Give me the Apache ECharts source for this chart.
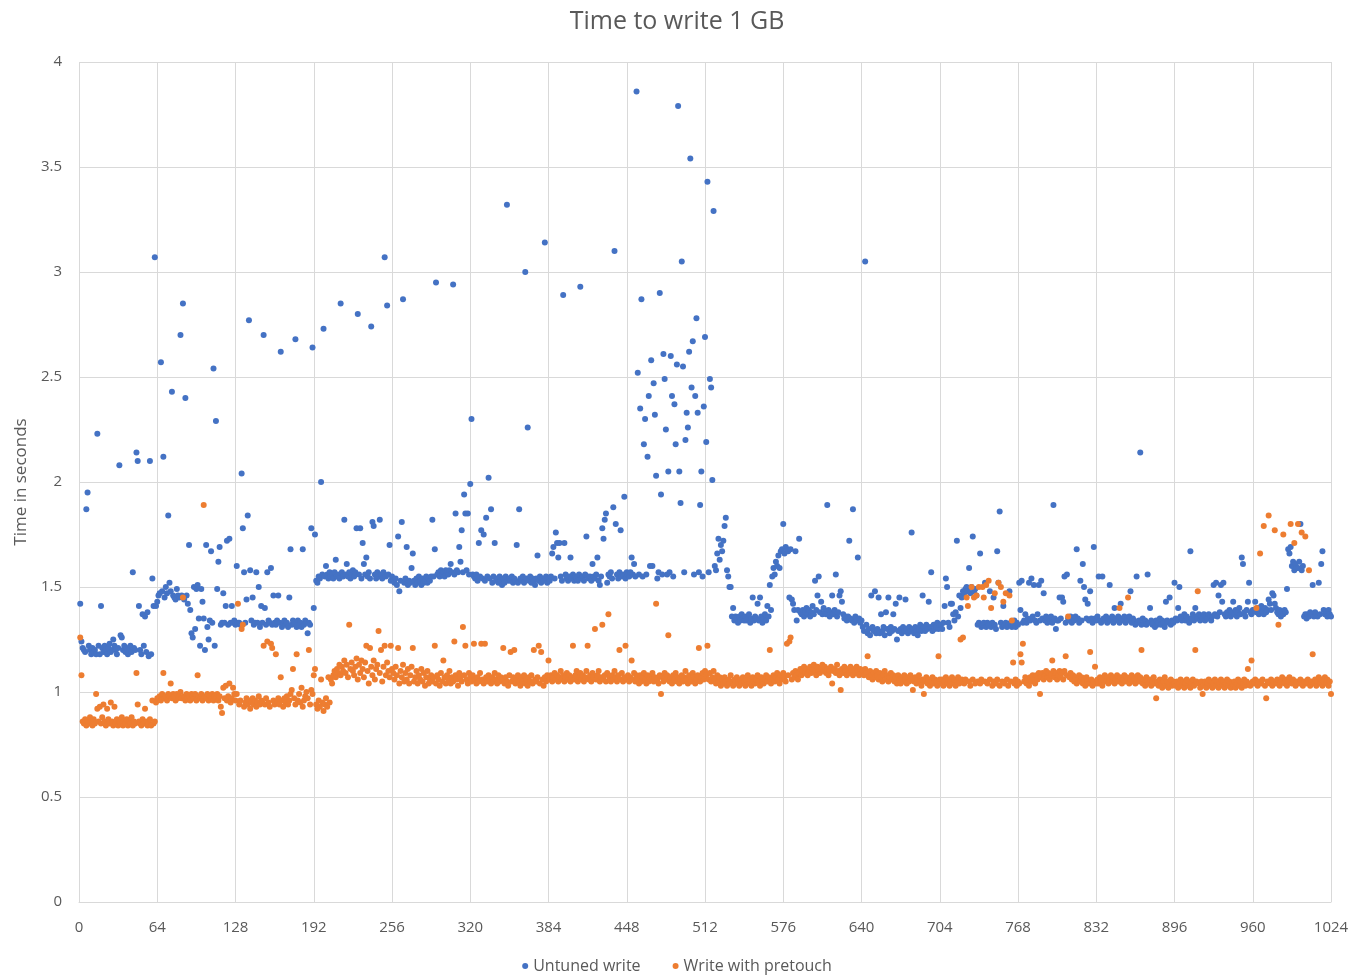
<!DOCTYPE html>
<html>
<head>
<meta charset="utf-8">
<title>Time to write 1 GB</title>
<script src="https://cdn.jsdelivr.net/npm/echarts@6/dist/echarts.min.js"></script>
<style>
  html, body { margin: 0; padding: 0; background: #fff; }
  #chart { width: 1354px; height: 977px; }
</style>
</head>
<body>
<div id="chart"></div>
<script>
// values in hundredths of a second, one per write (x = 1..1024)
const untuned = [
  142,124,121,120,119,187,195,122,120,118,121,119,120,118,223,122,118,141,121,119,122,120,118,121,123,119,120,125,122,120,118,121,
  208,127,126,120,122,119,121,118,120,122,119,157,121,120,214,210,141,120,118,137,122,136,119,138,117,210,118,154,141,307,141,143,
  146,147,257,148,212,145,150,147,184,152,148,243,146,145,144,149,146,145,270,146,285,144,240,146,142,170,139,128,126,150,130,149,
  151,135,122,149,143,135,120,170,131,125,134,167,133,254,122,229,149,162,169,132,133,147,133,141,172,132,173,133,141,133,134,132,
  160,133,133,132,204,178,157,133,144,184,277,158,134,145,132,133,157,133,150,131,141,133,270,140,132,157,134,133,159,132,146,133,
  132,134,146,133,262,131,133,134,132,133,131,145,168,132,134,133,268,131,134,132,133,131,168,132,134,133,128,133,132,178,264,140,
  175,153,152,155,154,200,156,273,155,160,156,154,157,155,156,154,157,163,155,156,154,285,157,155,182,156,161,155,157,154,156,158,
  155,157,178,280,156,178,154,171,161,156,164,155,157,154,274,181,179,156,154,157,155,182,156,154,157,307,155,284,156,170,153,155,
  153,152,154,151,174,148,153,181,287,152,154,169,151,153,152,159,166,153,151,154,152,155,153,151,154,152,153,155,152,154,153,155,
  182,155,168,295,156,157,155,158,156,157,155,158,157,156,158,161,157,294,156,185,158,157,169,162,177,157,194,185,158,185,156,199,
  230,156,155,154,156,153,171,155,177,154,175,153,183,155,202,154,187,152,155,171,153,154,152,155,153,151,154,152,155,332,153,154,
  153,155,152,154,153,170,152,187,154,153,155,152,300,154,226,153,155,152,154,153,151,154,165,153,155,152,154,153,314,155,152,154,
  153,155,166,169,154,176,171,164,171,155,153,289,171,156,154,153,155,164,154,156,153,155,154,153,156,293,154,155,153,156,174,155,
  154,155,153,161,155,154,156,164,153,151,155,178,173,182,185,152,156,155,157,154,188,310,180,156,154,157,177,155,156,193,154,157,
  156,155,157,164,156,161,155,386,252,156,235,287,155,218,230,156,212,241,160,258,160,247,232,203,154,157,290,194,156,261,249,225,
  156,205,157,260,241,155,237,218,256,379,205,190,305,255,157,220,233,226,262,354,245,267,156,241,278,233,157,189,205,155,236,269,
  219,343,157,249,245,201,329,160,158,166,173,163,170,167,172,179,183,158,155,150,150,136,140,134,136,135,133,136,134,137,135,134,
  136,134,135,137,133,135,145,134,136,135,142,134,145,136,133,135,137,134,141,136,151,139,155,159,156,162,160,165,159,167,168,180,
  166,169,168,167,145,168,144,142,139,167,134,139,173,138,137,139,136,138,140,137,139,136,138,141,137,153,139,146,155,138,143,137,
  140,138,137,189,139,136,138,146,137,139,156,136,138,146,148,143,137,135,136,134,136,172,135,134,187,133,136,134,164,135,133,134,
  131,129,305,132,128,130,127,146,131,129,148,128,130,145,128,137,129,131,127,138,130,145,128,131,129,137,130,142,125,129,145,130,
  128,131,129,144,130,128,131,129,176,130,128,131,129,127,130,132,129,146,131,129,132,130,143,131,157,129,132,130,131,133,130,132,
  132,130,133,141,154,150,133,131,142,142,137,134,138,172,136,146,140,145,148,147,149,150,148,159,147,150,174,148,149,146,132,133,
  166,131,132,133,152,131,133,132,148,131,133,145,132,130,167,152,186,133,131,141,132,133,131,132,148,133,131,132,134,131,133,132,
  152,139,153,133,134,137,133,135,152,134,154,136,151,134,133,137,151,134,153,135,147,134,136,133,135,134,136,133,189,135,130,134,
  134,145,135,145,143,155,133,156,135,134,136,133,135,134,136,168,135,133,153,134,161,150,144,135,142,134,148,135,133,169,135,134,
  136,155,134,133,155,135,134,136,133,135,151,134,136,133,140,135,134,136,133,142,135,134,136,133,135,134,136,148,133,135,134,132,
  155,133,134,214,132,135,133,134,132,156,133,140,134,132,133,131,134,132,133,135,132,134,133,131,143,134,133,145,132,134,133,152,
  135,134,140,150,136,134,135,137,134,136,135,133,167,135,137,134,140,136,135,137,134,136,135,137,134,136,135,137,136,134,136,151,
  137,152,136,146,138,151,143,152,137,136,138,137,139,136,138,143,137,139,136,138,140,137,164,161,138,136,139,143,152,138,137,139,
  139,143,138,140,137,139,141,138,137,140,138,139,144,142,139,147,146,142,140,138,137,139,136,138,137,139,138,149,168,166,169,160,
  162,158,161,159,159,162,180,158,160,136,137,135,137,136,138,137,151,136,138,137,136,152,137,161,167,139,137,138,136,139,137,136
];

const pretouch = [
  126,108,86,85,87,84,86,85,88,86,84,87,85,99,92,86,93,85,88,94,86,84,92,87,85,95,86,84,93,85,87,84,
  86,85,88,84,86,85,87,84,86,85,88,84,86,85,109,94,86,85,84,87,85,92,86,84,85,87,84,96,85,86,95,97,
  97,98,96,99,109,97,98,96,99,98,104,97,99,98,96,99,97,98,100,97,145,98,96,99,97,98,96,99,98,97,99,96,
  108,98,97,99,96,189,98,97,99,96,98,97,99,96,98,97,99,96,98,93,90,102,97,103,96,98,104,95,97,102,99,96,
  99,142,94,96,130,132,93,95,97,94,96,92,95,97,94,96,93,95,98,94,96,95,122,94,97,124,95,93,123,121,96,94,
  118,95,97,94,107,96,93,97,95,98,94,96,99,101,111,97,94,118,96,99,95,102,93,96,98,100,97,120,94,101,99,108,
  111,94,92,96,93,106,95,91,94,97,93,107,95,106,104,108,110,107,111,109,113,108,112,110,115,109,113,107,132,111,114,110,
  108,112,116,106,113,109,115,111,107,114,122,110,104,121,112,108,115,106,111,113,129,109,120,105,112,122,108,114,110,107,122,111,
  109,106,112,108,121,104,110,107,113,105,109,106,111,104,108,112,121,105,107,110,104,108,106,111,105,109,103,107,110,104,106,108,
  105,107,122,104,108,106,103,109,105,115,107,104,108,106,110,104,107,105,124,108,106,103,109,107,105,131,108,122,106,104,109,107,
  105,108,123,106,104,107,105,109,123,106,104,123,107,105,108,106,104,107,105,109,106,104,108,105,107,106,121,104,107,105,103,108,
  119,105,107,120,104,106,108,105,103,107,105,108,104,106,103,107,105,108,104,120,106,105,107,122,104,119,106,103,107,105,108,115,
  106,108,105,107,109,106,108,105,107,110,106,108,105,107,109,106,108,105,107,122,106,108,110,105,107,109,106,108,105,107,110,122,
  106,108,105,109,107,130,106,108,110,105,107,132,106,108,105,109,137,107,105,108,106,110,107,105,108,120,106,109,105,107,122,106,
  108,105,107,115,106,109,105,108,106,104,108,105,107,109,106,104,108,105,107,106,109,105,107,142,106,104,108,99,107,105,109,106,
  108,127,105,107,104,108,106,109,105,107,104,106,108,105,107,110,106,104,108,106,105,109,107,104,106,108,121,105,107,109,106,110,
  108,122,106,109,105,107,110,106,104,108,105,107,103,106,104,107,105,103,106,104,108,105,103,106,104,107,105,103,106,104,107,105,
  103,106,108,104,106,103,107,105,104,106,108,105,103,107,105,104,106,108,105,107,120,104,106,108,105,107,109,106,104,108,106,109,
  107,105,123,108,124,126,106,109,107,110,108,106,109,111,108,110,112,109,111,108,110,112,109,111,113,110,108,112,110,109,111,113,
  110,112,109,111,108,110,112,104,110,111,109,113,110,108,101,111,109,112,110,108,111,109,112,110,108,111,109,112,110,108,111,109,
  110,108,111,109,117,107,110,108,106,109,107,110,108,106,109,107,105,108,110,106,108,105,107,109,106,108,105,107,104,108,106,104,
  107,105,108,106,104,107,105,108,106,101,105,107,104,106,108,105,103,106,99,105,107,104,106,103,105,107,104,106,105,103,117,106,
  104,106,103,105,107,104,106,103,105,107,104,106,103,105,107,104,125,106,126,104,106,145,141,105,103,150,106,145,104,146,105,150,
  104,106,150,145,105,151,104,153,106,140,103,105,147,104,106,152,103,150,105,143,104,147,106,103,146,105,134,114,104,106,103,105,
  104,118,114,123,105,107,104,106,103,107,105,108,106,104,108,106,109,99,107,109,106,108,110,107,109,106,108,115,110,107,109,106,
  108,110,107,109,106,110,117,108,136,107,109,106,108,105,107,104,106,108,105,107,104,106,103,107,105,104,119,106,103,105,112,104,
  106,104,107,105,103,106,108,105,107,104,106,108,105,107,104,106,108,105,140,107,104,106,108,105,107,145,104,106,108,105,107,104,
  106,108,105,107,120,104,106,103,107,105,104,106,103,105,107,104,97,105,103,106,104,102,105,107,103,105,102,104,106,103,105,104,
  103,105,102,104,106,103,105,102,104,106,103,105,102,104,106,103,120,105,148,104,102,105,99,103,105,102,104,106,103,105,102,104,
  106,103,105,102,104,106,103,105,102,104,106,103,105,102,104,103,105,102,104,106,103,105,102,104,106,103,105,111,104,103,115,105,
  104,106,140,103,105,166,104,106,179,103,97,105,184,104,106,103,105,177,104,106,132,103,105,107,175,104,106,103,105,107,180,104,
  106,171,103,105,180,104,106,176,103,105,174,104,106,158,103,105,118,104,106,103,105,107,104,106,103,105,107,104,106,103,105,99
];

const xTicks = { min: 0, max: 1024, step: 64 };
const yTicks = { min: 0, max: 4, step: 0.5 };

const seriesNames = ['Untuned write', 'Write with pretouch'];
const seriesColors = ['#4472C4', '#ED7D31'];

const toPoints = arr => arr.map((v, i) => [i + 1, v / 100]);

const chart = echarts.init(document.getElementById('chart'));

const gridLine = { lineStyle: { color: '#d9d9d9', width: 1 } };
const labelStyle = { color: '#595959', fontSize: 15, fontFamily: 'Open Sans' };

chart.setOption({
  animation: false,
  backgroundColor: '#ffffff',
  color: seriesColors,
  title: {
    text: 'Time to write 1 GB',
    left: 'center',
    top: 4,
    textStyle: { color: '#595959', fontSize: 25, fontWeight: 'normal', fontFamily: 'Open Sans' }
  },
  legend: {
    bottom: -2,
    left: 'center',
    icon: 'circle',
    itemWidth: 6,
    itemHeight: 6,
    itemGap: 32,
    textStyle: { color: '#595959', fontSize: 16, fontFamily: 'Open Sans' },
    data: seriesNames
  },
  grid: { left: 79, right: 23, top: 62, bottom: 75, containLabel: false },
  xAxis: {
    type: 'value',
    min: xTicks.min,
    max: xTicks.max,
    interval: xTicks.step,
    axisLine: { show: true, lineStyle: { color: '#d9d9d9' } },
    axisTick: { show: false },
    axisLabel: Object.assign({ margin: 18, formatter: v => String(v) }, labelStyle),
    splitLine: Object.assign({ show: true }, gridLine)
  },
  yAxis: {
    type: 'value',
    min: yTicks.min,
    max: yTicks.max,
    interval: yTicks.step,
    name: 'Time in seconds',
    nameLocation: 'middle',
    nameGap: 48,
    nameTextStyle: { color: '#595959', fontSize: 17, fontFamily: 'Open Sans' },
    axisLine: { show: false },
    axisTick: { show: false },
    axisLabel: Object.assign({ margin: 17 }, labelStyle),
    splitLine: Object.assign({ show: true }, gridLine)
  },
  series: [
    {
      name: seriesNames[0],
      type: 'scatter',
      symbolSize: 6,
      itemStyle: { color: seriesColors[0], opacity: 1 },
      data: toPoints(untuned)
    },
    {
      name: seriesNames[1],
      type: 'scatter',
      symbolSize: 6,
      itemStyle: { color: seriesColors[1], opacity: 1 },
      data: toPoints(pretouch)
    }
  ]
});
</script>
</body>
</html>
